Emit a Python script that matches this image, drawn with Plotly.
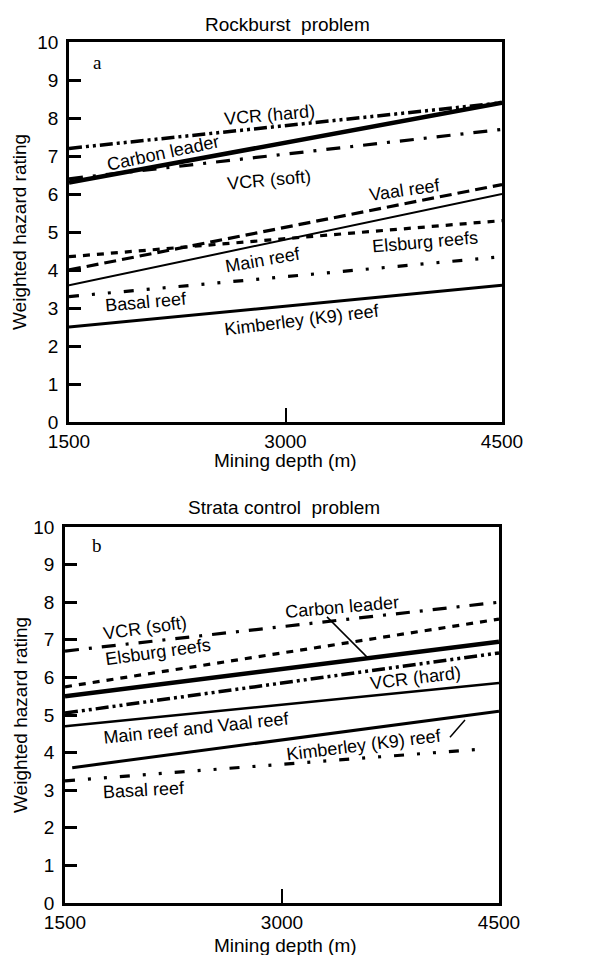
import plotly.graph_objects as go

# ---------------- data ----------------
depth_ticks = [1500, 3000, 4500]
rating_ticks = [0, 1, 2, 3, 4, 5, 6, 7, 8, 9, 10]

# Panel a: Rockburst problem (rating at start depth and at end depth)
rb_names = ["VCR (hard)", "Carbon leader", "VCR (soft)", "Vaal reef",
            "Main reef", "Elsburg reefs", "Basal reef", "Kimberley (K9) reef"]
rb_depth_start = [1500, 1500, 1500, 1500, 1500, 1500, 1500, 1500]
rb_depth_end = [4500, 4500, 4500, 4500, 4500, 4500, 4500, 4500]
rb_start = [7.2, 6.3, 6.4, 4.0, 3.6, 4.35, 3.3, 2.5]
rb_end = [8.4, 8.4, 7.7, 6.25, 6.0, 5.3, 4.35, 3.6]

# Panel b: Strata control problem
sc_names = ["VCR (soft)", "Elsburg reefs", "Carbon leader", "VCR (hard)",
            "Main reef and Vaal reef", "Kimberley (K9) reef", "Basal reef"]
sc_depth_start = [1500, 1500, 1500, 1500, 1500, 1550, 1500]
sc_depth_end = [4500, 4500, 4500, 4500, 4500, 4500, 4400]
sc_start = [6.7, 5.75, 5.5, 5.05, 4.7, 3.6, 3.25]
sc_end = [8.0, 7.55, 6.95, 6.65, 5.85, 5.1, 4.1]

# label positions (depth, rating, angle)
rb_labels = [("VCR (hard)", 2886, 8.08, -5), ("Carbon leader", 2151, 7.08, -12),
             ("VCR (soft)", 2886, 6.37, -5), ("Vaal reef", 3828, 6.1, -8),
             ("Main reef", 2844, 4.26, -10), ("Elsburg reefs", 3966, 4.74, -5),
             ("Basal reef", 2033, 3.16, -5), ("Kimberley (K9) reef", 3114, 2.68, -7)]
sc_labels = [("VCR (soft)", 2053, 7.31, -8), ("Carbon leader", 3415, 7.87, -5),
             ("Elsburg reefs", 2143, 6.68, -8), ("VCR (hard)", 3926, 5.98, -7),
             ("Main reef and Vaal reef", 2412, 4.65, -6),
             ("Kimberley (K9) reef", 3567, 4.2, -7), ("Basal reef", 2046, 3.0, -3)]

# ---------------- styles ----------------
styles = {
    "VCR (hard)": dict(width=3.5, dash="13px,4px,3px,4px,3px,4px"),
    "Carbon leader": dict(width=4.5, dash="solid"),
    "VCR (soft)": dict(width=3.2, dash="14px,10px,3px,10px"),
    "Vaal reef": dict(width=3.2, dash="12px,6px"),
    "Main reef": dict(width=2.0, dash="solid"),
    "Main reef and Vaal reef": dict(width=2.5, dash="solid"),
    "Elsburg reefs": dict(width=3.2, dash="7px,7px"),
    "Basal reef": dict(width=3.2, dash="10px,13px,3px,13px,3px,13px"),
    "Kimberley (K9) reef": dict(width=3.0, dash="solid"),
}

FONT = "Liberation Sans, Arial, Helvetica, sans-serif"
SERIF = "Liberation Serif, Times New Roman, serif"
W, H = 590, 955

fig = go.Figure()

def add_panel(names, d0, d1, v0, v1, xa, ya):
    for n, a, b, s, e in zip(names, d0, d1, v0, v1):
        st = styles[n]
        fig.add_trace(go.Scatter(x=[a, b], y=[s, e], mode="lines", xaxis=xa, yaxis=ya,
                                 line=dict(color="black", width=st["width"], dash=st["dash"]),
                                 showlegend=False, hoverinfo="skip"))

add_panel(rb_names, rb_depth_start, rb_depth_end, rb_start, rb_end, "x", "y")
add_panel(sc_names, sc_depth_start, sc_depth_end, sc_start, sc_end, "x2", "y2")

# panel geometry (pixels)
top = dict(l=69, r=502, t=42, b=422)
bot = dict(l=65, r=499, t=527, b=903)

def axis_common():
    return dict(showgrid=False, zeroline=False, showline=True, linecolor="black",
                linewidth=2.5, mirror=True, ticks="inside", tickcolor="black",
                automargin=False,
                tickfont=dict(family=FONT, size=19, color="black"))

xa = axis_common()
xa.update(range=[1500, 4500], tickvals=depth_ticks, ticklen=14, tickwidth=2,
          ticklabelstandoff=0)
ya = axis_common()
ya.update(range=[0, 10], tickvals=rating_ticks, ticklen=12, tickwidth=2.5,
          ticklabelstandoff=4)

fig.update_layout(
    template="none",
    width=W, height=H, margin=dict(l=0, r=0, t=0, b=0, autoexpand=False),
    paper_bgcolor="white", plot_bgcolor="white",
    xaxis=dict(xa, domain=[top["l"] / W, top["r"] / W], anchor="y"),
    yaxis=dict(ya, domain=[1 - top["b"] / H, 1 - top["t"] / H], anchor="x"),
    xaxis2=dict(xa, domain=[bot["l"] / W, bot["r"] / W], anchor="y2"),
    yaxis2=dict(ya, domain=[1 - bot["b"] / H, 1 - bot["t"] / H], anchor="x2"),
)

ann = []
for text, d, r, ang in rb_labels:
    ann.append(dict(x=d, y=r, xref="x", yref="y", text=text, showarrow=False,
                    textangle=ang, font=dict(family=FONT, size=18, color="black")))
for text, d, r, ang in sc_labels:
    ann.append(dict(x=d, y=r, xref="x2", yref="y2", text=text, showarrow=False,
                    textangle=ang, font=dict(family=FONT, size=18, color="black")))

def paper(px, py):
    return px / W, 1 - py / H

for txt, (px, py), size, fam, ang in [
    ("Rockburst  problem", (287, 24), 19, FONT, 0),
    ("Strata control  problem", (284, 507), 19, FONT, 0),
    ("a", (97, 62), 19, SERIF, 0),
    ("b", (97, 545), 19, SERIF, 0),
    ("Mining depth (m)", (285, 461), 19, FONT, 0),
    ("Mining depth (m)", (285, 945), 19, FONT, 0),
    ("Weighted hazard rating", (20, 232), 19, FONT, -90),
    ("Weighted hazard rating", (20, 715), 19, FONT, -90),
]:
    x, y = paper(px, py)
    ann.append(dict(x=x, y=y, xref="paper", yref="paper", text=txt, showarrow=False,
                    textangle=ang, xanchor="center", yanchor="middle",
                    font=dict(family=fam, size=size, color="black")))

fig.update_layout(annotations=ann)

# leader lines in panel b
fig.add_shape(type="line", xref="x2", yref="y2", x0=3311, y0=7.61, x1=3588, y1=6.54,
              line=dict(color="black", width=1.5))
fig.add_shape(type="line", xref="x2", yref="y2", x0=4161, y0=4.41, x1=4265, y1=4.87,
              line=dict(color="black", width=1.5))

fig.write_html("out.html", config={"displayModeBar": False},
               post_script="document.body.style.margin='0';document.body.style.overflow='hidden';")
